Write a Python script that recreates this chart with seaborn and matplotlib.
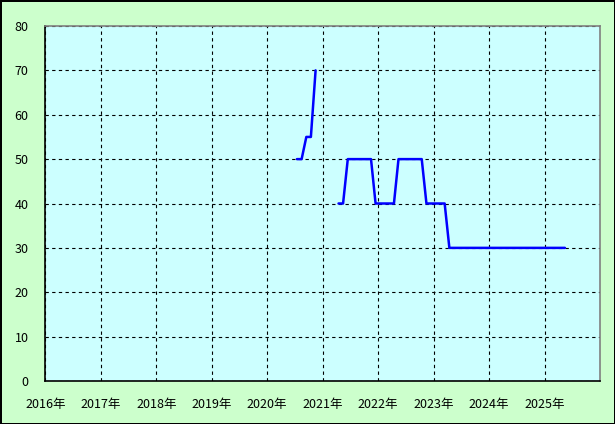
"""
月次の推移を折れ線で描く (2020年7月〜2025年5月、途中に欠測あり)
"""

import matplotlib

matplotlib.use("Agg")
import matplotlib.dates as mdates
import matplotlib.pyplot as plt
import pandas as pd
import seaborn as sns

# 1本目: 2020年7月から (各月15日にプロット)
SEG1_START = "2020-07-01"
SEG1_VALUES = [50, 50, 55, 55, 70]

# 2本目: 2021年4月から 2025年5月まで
SEG2_START = "2021-04-01"
SEG2_VALUES = [
    40, 40, 50, 50, 50, 50, 50, 50, 40,              # 2021年 4月-12月
    40, 40, 40, 40, 50, 50, 50, 50, 50, 50, 40, 40,  # 2022年
    40, 40, 40, 30, 30, 30, 30, 30, 30, 30, 30, 30,  # 2023年
    30, 30, 30, 30, 30, 30, 30, 30, 30, 30, 30, 30,  # 2024年
    30, 30, 30, 30, 30,                              # 2025年 1月-5月
]

Y_TICKS = [0, 10, 20, 30, 40, 50, 60, 70, 80]
X_YEARS = [2016, 2017, 2018, 2019, 2020, 2021, 2022, 2023, 2024, 2025]
X_END_YEAR = 2026


def build_frame() -> pd.DataFrame:
    parts = []
    for seg, (start, vals) in enumerate([(SEG1_START, SEG1_VALUES), (SEG2_START, SEG2_VALUES)]):
        dates = pd.date_range(start, periods=len(vals), freq="MS") + pd.Timedelta(days=14)
        parts.append(pd.DataFrame({"date": dates, "value": vals, "seg": seg}))
    return pd.concat(parts, ignore_index=True)


def main():
    df = build_frame()

    sns.set_style("white")
    plt.rcParams["font.family"] = ["Noto Sans CJK JP", "DejaVu Sans"]

    fig = plt.figure(figsize=(6.15, 4.24), dpi=100)
    fig.patch.set_facecolor("#CCFFCC")
    fig.patch.set_edgecolor("black")
    fig.patch.set_linewidth(2)
    ax = fig.add_axes([45.3 / 615, 1 - 381 / 424, (600 - 45.3) / 615, (381 - 26) / 424])
    ax.set_facecolor("#CCFFFF")

    sns.lineplot(data=df, x="date", y="value", units="seg", estimator=None,
                 color="#0000FF", linewidth=1.8, ax=ax, zorder=3)

    year_ticks = [pd.Timestamp(f"{y}-01-01") for y in X_YEARS]
    ax.set_xlim(year_ticks[0], pd.Timestamp(f"{X_END_YEAR}-01-01"))
    ax.set_ylim(Y_TICKS[0], Y_TICKS[-1])
    ax.set_yticks(Y_TICKS)
    ax.set_xticks(year_ticks)
    ax.xaxis.set_major_formatter(mdates.DateFormatter("%Y年"))

    ax.grid(True, color="black", linestyle=(0, (3, 3)), linewidth=0.8)
    ax.tick_params(length=0, labelsize=9, colors="black")
    ax.tick_params(axis="y", pad=12)
    ax.tick_params(axis="x", pad=12)
    ax.set_xlabel("")
    ax.set_ylabel("")

    for side in ["left", "bottom"]:
        ax.spines[side].set_color("black")
        ax.spines[side].set_linewidth(1.2)
        ax.spines[side].set_zorder(5)
    for side in ["top", "right"]:
        ax.spines[side].set_visible(True)
        ax.spines[side].set_color("#808080")
        ax.spines[side].set_linewidth(1.2)
        ax.spines[side].set_zorder(5)

    fig.savefig("out.png", dpi=100, facecolor=fig.get_facecolor(), edgecolor=fig.get_edgecolor())
    plt.close()


if __name__ == "__main__":
    main()
